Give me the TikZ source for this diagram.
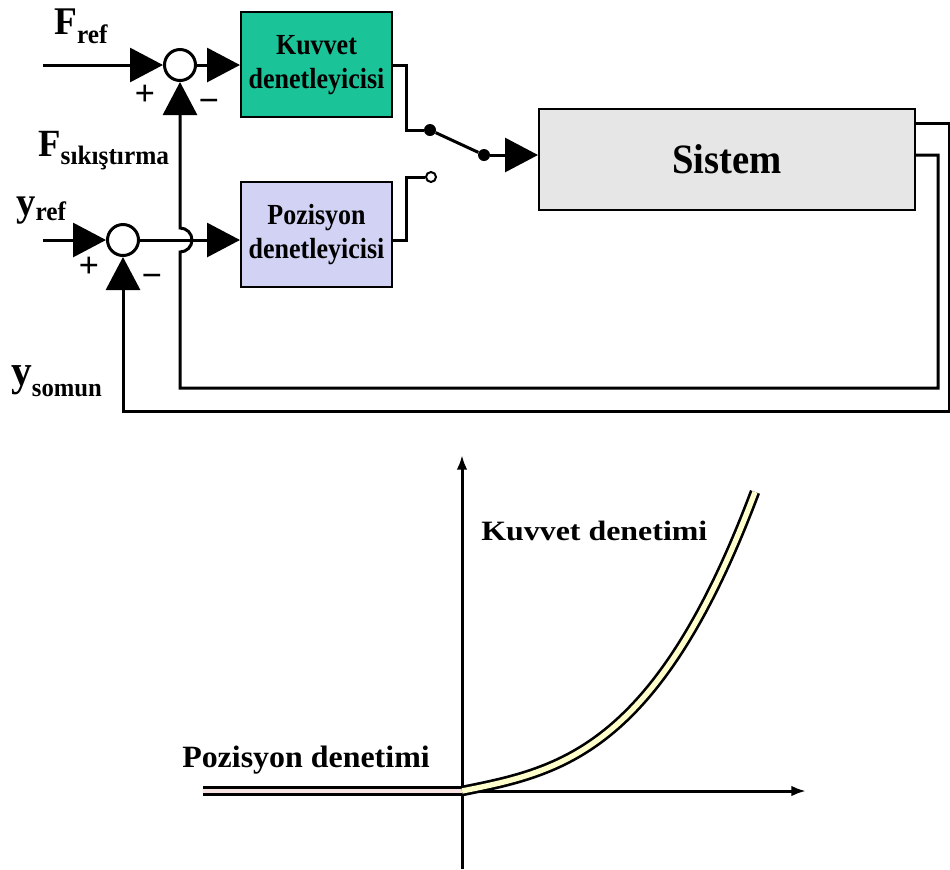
\documentclass[tikz,border=0pt]{standalone}
\usepackage{fontspec}
\setmainfont{Liberation Serif}
\usepackage{graphicx}
\usetikzlibrary{arrows.meta}
\definecolor{kuvfill}{RGB}{27,196,152}
\definecolor{pozfill}{RGB}{210,210,245}
\definecolor{sysfill}{RGB}{230,230,230}
\definecolor{curvefill}{RGB}{255,255,204}
\definecolor{flatfill}{RGB}{248,226,226}
% symbol with a lowered subscript: size, symbol, sub size, subscript, drop
\newcommand{\symb}[5]{{\fontsize{#1pt}{#1pt}\selectfont\bfseries #2}\raisebox{-#5pt}{\fontsize{#3pt}{#3pt}\selectfont\bfseries #4}}
% slightly tall lettering
\newcommand{\tall}[2]{\scalebox{1}[#1]{#2}}
\begin{document}
\begin{tikzpicture}[x=0.75pt,y=-0.75pt,
  wire/.style={line width=2.25pt},
  bigtip/.style={-{Triangle[length=24.75pt,width=25.5pt]}},
  sumnode/.style={circle,draw,line width=2.25pt,minimum size=23.25pt,inner sep=0pt,fill=white},
  block/.style={draw,line width=1.5pt,inner sep=0pt,align=center,
    font=\bfseries\fontsize{19.5pt}{23.25pt}\selectfont},
  dot/.style={circle,fill,inner sep=0pt,minimum size=9pt},
  opendot/.style={circle,draw,line width=1.5pt,fill=white,inner sep=0pt,minimum size=7.5pt},
  lbl/.style={anchor=base west,inner sep=0pt},
  pm/.style={inner sep=0pt,font=\bfseries\fontsize{27pt}{27pt}\selectfont},
  axis/.style={line width=2.25pt,-{Latex[length=11pt,width=8pt]}}]
\useasboundingbox (0,0) rectangle (950,869);

% blocks
\node[block,fill=kuvfill,minimum width=113.25pt,minimum height=78.75pt] (kuv) at (316.5,64.5)
  {\tall{1.12}{\begin{tabular}{@{}c@{}}Kuvvet\\[-1pt]denetleyicisi\end{tabular}}};
\node[block,fill=pozfill,minimum width=113.25pt,minimum height=78.75pt] (poz) at (316.5,234.5)
  {\tall{1.12}{\begin{tabular}{@{}c@{}}Pozisyon\\[-1pt]denetleyicisi\end{tabular}}};
\node[block,fill=sysfill,minimum width=282pt,minimum height=75.75pt,
  font=\bfseries\fontsize{29pt}{29pt}\selectfont] (sys) at (727,159.5) {\tall{1.08}{Sistem}};

% summing junctions and switch contacts
\node[sumnode] (s1) at (180,65) {};
\node[sumnode] (s2) at (123,240) {};
\node[dot] (d1) at (430,130) {};
\node[dot] (d2) at (484,155) {};
\node[opendot] (o1) at (431,177) {};

\coordinate (fin) at (43,65);
\coordinate (yin) at (43,240);
\coordinate (outA) at (949,123);
\coordinate (outB) at (949,411);
\coordinate (inA) at (938,155);
\coordinate (inB) at (938,388);

% forward paths
\draw[wire,bigtip] (fin) -- (s1);
\draw[wire,bigtip] (s1) -- (s1 -| kuv.west);
\draw[wire,bigtip] (yin) -- (s2);
\draw[wire,bigtip] (s2) -- (s2 -| poz.west);
\draw[wire] (s1 -| kuv.east) -- ++(13,0) |- (d1);
\draw[wire] (d1) -- (d2);
\draw[wire,bigtip] (d2) -- (d2 -| sys.west);
\draw[wire] (s2 -| poz.east) -- ++(13,0) |- (o1);

% feedback: position
\draw[wire,bigtip] (sys.east |- outA) -- (outA) -- (outB) -- (s2 |- outB) -- (s2);
% feedback: force, hopping over the position line
\draw[wire,bigtip] (sys.east |- inA) -- (inA) -- (inB) -- (s1 |- inB) -- (180,252)
  arc[start angle=-90,end angle=90,radius=9pt] -- (s1);

% signs
\node[pm] (p1) at (145,95) {+};
\node[pm] (m1) at (209,106) {−};
\node[pm] (p2) at (89,267) {+};
\node[pm] (m2) at (152,281) {−};

% signal labels
\node[lbl] (fref) at (54,34) {\tall{1.05}{\symb{28}{F}{19}{ref}{6.75}}};
\node[lbl] (fsik) at (38,156) {\tall{1.05}{\symb{27.5}{F}{19}{sıkıştırma}{6}}};
\node[lbl] (yref) at (16,215) {\tall{1.05}{\symb{29}{y}{19}{ref}{3.75}}};
\node[lbl] (ysom) at (11,385) {\tall{1.05}{\symb{31}{y}{18.5}{somun}{8.5}}};

% characteristic curve
\coordinate (org) at (462,791);
\coordinate (ybot) at (462,869);
\coordinate (ytop) at (462,455);
\coordinate (xend) at (806,791);
\coordinate (flatL) at (203,791);
\draw[axis] (ybot) -- (ytop);
\draw[axis] (org) -- (xend);
\draw[line width=7.5pt] (flatL) -- (org);
\draw[line width=3.5pt,flatfill] (flatL) -- (org);
\draw[line width=8pt] plot[domain=0:293,samples=70,smooth]
  ({462+\x},{791-0.2*\x-9.56*(\x/100)^3});
\draw[line width=4pt,curvefill] plot[domain=0:293,samples=70,smooth]
  ({462+\x},{791-0.2*\x-9.56*(\x/100)^3});

\node[lbl] (kd) at (481,540) {\scalebox{1.14}[1]{\bfseries\fontsize{21pt}{21pt}\selectfont Kuvvet denetimi}};
\node[lbl] (pd) at (182,767) {\scalebox{1.03}[1]{\bfseries\fontsize{23.25pt}{23.25pt}\selectfont Pozisyon denetimi}};
\end{tikzpicture}
\end{document}
